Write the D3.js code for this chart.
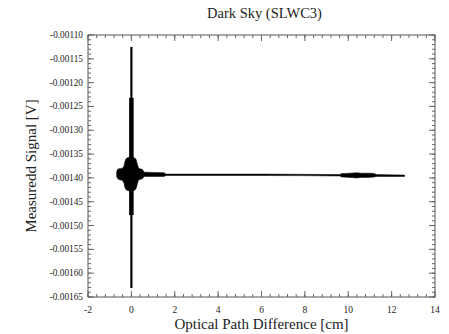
<!DOCTYPE html>
<html><head><meta charset="utf-8">
<script src="https://cdn.jsdelivr.net/npm/d3@7"></script>
<style>body{margin:0;background:#fff}svg{display:block}text{font-family:"Liberation Serif","Times New Roman",serif;fill:#222}</style>
</head><body><svg id="c" width="449" height="334"></svg>
<script>
const title = "Dark Sky (SLWC3)";
const xLabel = "Optical Path Difference [cm]";
const yLabel = "Measuredd Signal [V]";
const xTicks = [-2,0,2,4,6,8,10,12,14];
const yTicks = [-0.00110,-0.00115,-0.00120,-0.00125,-0.00130,-0.00135,-0.00140,-0.00145,-0.00150,-0.00155,-0.00160,-0.00165];
// envelope of the interferogram (OPD cm, upper V, lower V)
const envOpd   = [-0.68,-0.60,-0.45,-0.35,-0.30,-0.20,0.00,0.20,0.28,0.35,0.50,0.60,1.50,1.60,6.00,9.60,9.70,10.10,10.40,10.60,10.90,11.20,11.30,12.60];
const envUpper = [-0.001387,-0.001381,-0.001380,-0.001376,-0.001366,-0.001358,-0.001356,-0.001360,-0.001372,-0.001380,-0.001382,-0.001388,-0.001389,-0.001392,-0.001392,-0.001393,-0.001391,-0.001390,-0.001389,-0.001390,-0.001390,-0.001391,-0.001393,-0.001394];
const envLower = [-0.001397,-0.001403,-0.001405,-0.001410,-0.001420,-0.001426,-0.001428,-0.001424,-0.001412,-0.001404,-0.001402,-0.001397,-0.001397,-0.001395,-0.001395,-0.001396,-0.001398,-0.001399,-0.001400,-0.001399,-0.001399,-0.001398,-0.001397,-0.001397];
// central burst (zero path difference): full fringe range and dense core range
const burstOpd = 0.0;
const burstMax = -0.001125, burstMin = -0.001631;
const coreMax = -0.001232, coreMin = -0.001478;

const svg = d3.select("#c");
const m = {l:88, r:435, t:35, b:297};
const x = d3.scaleLinear().domain([-2,14]).range([m.l,m.r]);
const y = d3.scaleLinear().domain([-0.00110,-0.00165]).range([m.t,m.b]);

svg.append("text").attr("x",(m.l+m.r)/2+3).attr("y",18).attr("text-anchor","middle").attr("font-size",14.5).text(title);

// envelope area
const env = envOpd.map((d,i)=>({x:d,u:envUpper[i],l:envLower[i]}));
svg.append("path").datum(env)
  .attr("d", d3.area().x(d=>x(d.x)).y0(d=>y(d.l)).y1(d=>y(d.u)).curve(d3.curveMonotoneX))
  .attr("fill","#000").attr("stroke","#000").attr("stroke-width",0.5);
// burst strokes
svg.append("line").attr("x1",x(burstOpd)).attr("x2",x(burstOpd))
  .attr("y1",y(burstMax)).attr("y2",y(burstMin)).attr("stroke","#000").attr("stroke-width",2.2);
svg.append("line").attr("x1",x(burstOpd)).attr("x2",x(burstOpd))
  .attr("y1",y(coreMax)).attr("y2",y(coreMin)).attr("stroke","#000").attr("stroke-width",4.5);

// frame
svg.append("rect").attr("x",m.l).attr("y",m.t).attr("width",m.r-m.l).attr("height",m.b-m.t)
  .attr("fill","none").attr("stroke","#555").attr("stroke-width",1);

const tc = "#666";
// x ticks
const xMinor = d3.range(-2,14.001,0.4);
const gx = svg.append("g");
gx.selectAll(".xm").data(xMinor).join("line")
  .attr("x1",d=>x(d)).attr("x2",d=>x(d)).attr("y1",m.b).attr("y2",m.b-3).attr("stroke",tc);
gx.selectAll(".xmt").data(xMinor).join("line")
  .attr("x1",d=>x(d)).attr("x2",d=>x(d)).attr("y1",m.t).attr("y2",m.t+3).attr("stroke",tc);
gx.selectAll(".xM").data(xTicks).join("line")
  .attr("x1",d=>x(d)).attr("x2",d=>x(d)).attr("y1",m.b).attr("y2",m.b-6).attr("stroke",tc);
gx.selectAll(".xMt").data(xTicks).join("line")
  .attr("x1",d=>x(d)).attr("x2",d=>x(d)).attr("y1",m.t).attr("y2",m.t+6).attr("stroke",tc);
gx.selectAll("text").data(xTicks).join("text")
  .attr("x",d=>x(d)).attr("y",m.b+16).attr("text-anchor","middle").attr("font-size",9.5)
  .text(d=>d);

// y ticks
const yMinor = d3.range(0,56).map(i=>-0.00110 - i*0.00001);
const gy = svg.append("g");
gy.selectAll(".ym").data(yMinor).join("line")
  .attr("x1",m.l).attr("x2",m.l+3).attr("y1",d=>y(d)).attr("y2",d=>y(d)).attr("stroke",tc);
gy.selectAll(".ymr").data(yMinor).join("line")
  .attr("x1",m.r).attr("x2",m.r-3).attr("y1",d=>y(d)).attr("y2",d=>y(d)).attr("stroke",tc);
gy.selectAll(".yM").data(yTicks).join("line")
  .attr("x1",m.l).attr("x2",m.l+6).attr("y1",d=>y(d)).attr("y2",d=>y(d)).attr("stroke",tc);
gy.selectAll(".yMr").data(yTicks).join("line")
  .attr("x1",m.r).attr("x2",m.r-6).attr("y1",d=>y(d)).attr("y2",d=>y(d)).attr("stroke",tc);
gy.selectAll("text").data(yTicks).join("text")
  .attr("x",m.l-5).attr("y",d=>y(d)+3).attr("text-anchor","end").attr("font-size",9.3)
  .text(d=>d.toFixed(5));

svg.append("text").attr("x",(m.l+m.r)/2).attr("y",329).attr("text-anchor","middle").attr("font-size",15).text(xLabel);
svg.append("text").attr("transform",`translate(36,${(m.t+m.b)/2}) rotate(-90)`).attr("text-anchor","middle").attr("font-size",15).text(yLabel);
</script></body></html>
